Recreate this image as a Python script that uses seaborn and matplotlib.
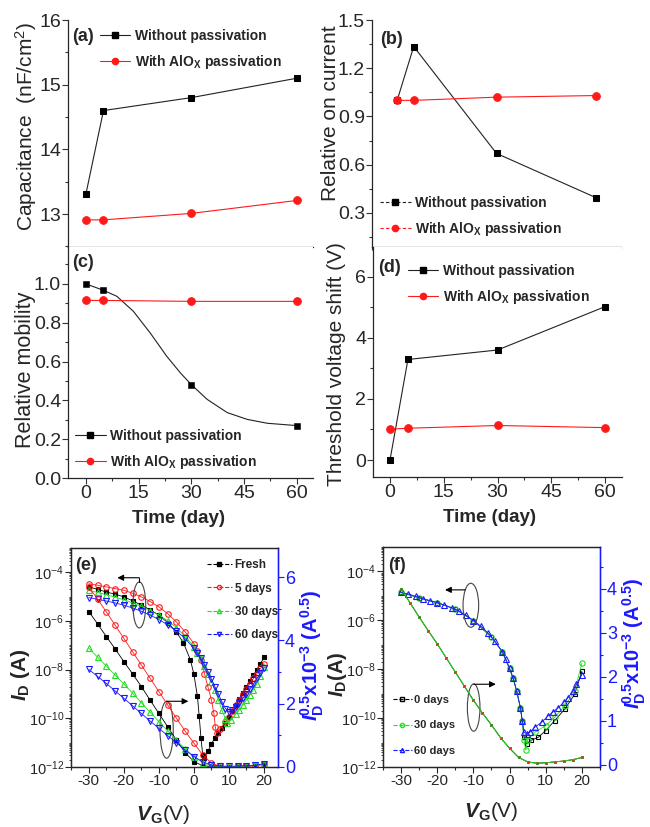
import matplotlib
matplotlib.use("Agg")
import matplotlib.pyplot as plt
import seaborn as sns
import numpy as np
from matplotlib import font_manager
from matplotlib.patches import Ellipse
from matplotlib.lines import Line2D
from matplotlib.ticker import MultipleLocator, FixedLocator, LogLocator, NullFormatter

# ---------------- panels (a)-(d): aging with / without AlOx passivation
days = [0, 5, 30, 60]
cap_without = [13.31, 14.60, 14.80, 15.10]
cap_with = [12.91, 12.91, 13.01, 13.21]
on_without = [1.0, 1.335, 0.67, 0.395]
on_with = [1.0, 1.0, 1.02, 1.03]
mob_without = [1.0, 0.967, 0.481, 0.27]
mob_with = [0.915, 0.915, 0.91, 0.91]
vth_without = [0.0, 3.29, 3.6, 5.02]
vth_with = [1.01, 1.04, 1.13, 1.06]

# smooth guide line drawn through the mobility points
mob_fit_days = [0, 5, 8.8, 13.5, 18.3, 23, 26.9, 30, 34.5, 40.2, 45.9, 51.6, 60]
mob_fit_vals = [1.0, 0.967, 0.936, 0.859, 0.747, 0.627, 0.541, 0.481, 0.405, 0.337, 0.302, 0.282, 0.27]

# ---------------- panel (e): without passivation, log10(I_D) and sqrt(I_D) x1e3
e_fresh_vg = [-30, -27.5, -25, -22.5, -20, -17.5, -15, -12.5, -10, -7.5, -5, -3, -1, 0, 1, 1.5, 2, 2.5, 3,
              4, 5, 6, 7, 8, 9, 10, 11, 12, 13, 14, 15, 16, 17, 18, 19, 20]
e_fresh_log = [-4.60, -4.70, -4.81, -4.90, -5.01, -5.17, -5.35, -5.54, -5.76, -6.07, -6.45, -6.9, -7.6, -8.2,
               -9.1, -9.9, -10.8, -11.5, -11.65, -11.35, -11.05, -10.8, -10.6, -10.4, -10.2, -9.95, -9.7,
               -9.45, -9.2, -8.95, -8.7, -8.45, -8.22, -8.0, -7.75, -7.5]
e_5d_vg = [-30, -27.5, -25, -22.5, -20, -17.5, -15, -12.5, -10, -7.5, -5, -2.5, 0, 1, 2, 3, 4, 5, 5.7, 6.1,
           6.5, 7.5, 9, 10, 11, 12, 13, 14, 15, 16, 17, 18, 19, 20]
e_5d_log = [-4.47, -4.53, -4.6, -4.67, -4.74, -4.86, -5.01, -5.2, -5.42, -5.7, -6.04, -6.45, -6.93, -7.25,
            -7.61, -8.16, -8.71, -9.25, -9.8, -10.35, -10.62, -10.42, -10.15, -9.94, -9.7, -9.46, -9.23,
            -9.0, -8.78, -8.57, -8.36, -8.16, -7.95, -7.75]
e_30d_vg = [-30, -27.5, -25, -22.5, -20, -17.5, -15, -12.5, -10, -7.5, -5, -2.5, 0, 1, 2, 3, 4, 5, 6, 7,
            8, 9, 9.5, 10.5, 12, 13, 14, 15, 16, 17, 18, 19, 20]
e_30d_log = [-4.74, -4.83, -4.92, -5.02, -5.13, -5.26, -5.4, -5.57, -5.76, -5.99, -6.27, -6.64, -7.06, -7.3,
             -7.54, -7.85, -8.16, -8.5, -8.84, -9.25, -9.67, -10.01, -10.19, -10.08, -9.83, -9.65, -9.46,
             -9.25, -9.05, -8.82, -8.57, -8.25, -7.88]
e_60d_vg = [-30, -27.5, -25, -22.5, -20, -17.5, -15, -12.5, -10, -7.5, -5, -2.5, 0, 1, 2, 3, 4, 5, 6, 7,
            8, 9, 10, 11, 12, 13, 14, 15, 16, 17, 18, 19, 20]
e_60d_log = [-5.04, -5.11, -5.18, -5.26, -5.35, -5.47, -5.6, -5.76, -5.94, -6.16, -6.41, -6.72, -7.13, -7.33,
             -7.54, -7.8, -8.09, -8.4, -8.71, -9.02, -9.32, -9.6, -9.73, -9.66, -9.52, -9.36, -9.18, -9.0,
             -8.81, -8.6, -8.36, -8.15, -7.95]

e_sq_vg = [-30, -27.5, -25, -22.5, -20, -17.5, -15, -12.5, -10, -7.5, -5, -2.5, 0, 2.5, 5, 7.5, 10,
           12.5, 15, 17.5, 20]
e_fresh_sq = [4.91, 4.52, 4.12, 3.73, 3.33, 2.94, 2.54, 2.11, 1.69, 1.27, 0.85, 0.45, 0.17, 0.04, 0.01,
              0.01, 0.01, 0.02, 0.03, 0.04, 0.09]
e_5d_sq = [5.69, 5.3, 4.9, 4.48, 4.06, 3.64, 3.22, 2.8, 2.38, 1.96, 1.54, 1.13, 0.75, 0.38, 0.12, 0.02,
           0.01, 0.02, 0.03, 0.04, 0.09]
e_30d_sq = [3.75, 3.47, 3.19, 2.9, 2.62, 2.33, 2.03, 1.73, 1.43, 1.14, 0.85, 0.57, 0.33, 0.14, 0.04, 0.02,
            0.02, 0.02, 0.03, 0.05, 0.09]
e_60d_sq = [3.08, 2.86, 2.64, 2.4, 2.17, 1.93, 1.69, 1.45, 1.22, 0.99, 0.77, 0.53, 0.33, 0.16, 0.06, 0.03,
            0.02, 0.03, 0.04, 0.05, 0.1]

# ---------------- panel (f): with AlOx passivation
f_0d_vg = [-30, -25, -20, -15, -10, -5, -2, 0, 1, 2, 3, 3.5, 4, 4.7, 6, 8, 10, 12.5, 15.3, 18, 20]
f_0d_log = [-4.86, -5.08, -5.28, -5.54, -6.01, -6.69, -7.29, -7.97, -8.37, -8.91, -9.58, -10.1,
            -10.78, -11.05, -10.91, -10.78, -10.51, -10.1, -9.63, -9.03, -8.09]
f_30d_vg = [-30, -25, -20, -15, -10, -5, -2, 0, 1, 2, 3, 3.5, 4, 4.5, 5, 7, 10, 12.5, 15.3, 18, 20]
f_30d_log = [-4.86, -5.08, -5.28, -5.54, -6.01, -6.69, -7.29, -7.97, -8.37, -8.91, -9.58, -10.1,
             -10.9, -11.31, -10.9, -10.58, -10.31, -9.97, -9.5, -8.9, -7.76]
f_60d_vg = [-30, -28, -26, -24, -22, -20, -18, -16, -14, -12, -10, -8, -6, -4, -2, -1, 0, 1, 2, 3, 3.5,
            4, 4.7, 5.6, 7, 8.9, 10.7, 12, 13.5, 15, 16.2, 17.5, 18.5, 20]
f_60d_log = [-4.86, -4.92, -5.02, -5.12, -5.2, -5.28, -5.38, -5.49, -5.62, -5.8, -6.01, -6.23, -6.51, -6.86,
             -7.29, -7.6, -7.97, -8.37, -8.91, -9.58, -10.1, -10.58, -10.64, -10.58, -10.37, -10.17, -9.9,
             -9.75, -9.57, -9.35, -9.16, -8.9, -8.62, -8.22]

f_sq_vg = [-30, -27.5, -25, -22.5, -20, -17.5, -15, -12.5, -10, -7.5, -5, -2.5, 0, 2.5, 5, 7.5, 10,
           12.5, 15, 17.5, 20]
f_0d_sq = [4.0, 3.68, 3.36, 3.05, 2.75, 2.43, 2.11, 1.79, 1.47, 1.18, 0.91, 0.62, 0.38, 0.17, 0.07, 0.04,
           0.05, 0.07, 0.09, 0.12, 0.17]
f_30d_sq = [4.0, 3.68, 3.36, 3.05, 2.75, 2.43, 2.11, 1.79, 1.47, 1.18, 0.91, 0.62, 0.38, 0.17, 0.07, 0.04,
            0.05, 0.07, 0.09, 0.12, 0.17]
f_60d_sq = [4.0, 3.68, 3.36, 3.05, 2.75, 2.43, 2.11, 1.79, 1.47, 1.18, 0.91, 0.62, 0.38, 0.17, 0.07, 0.04,
            0.05, 0.07, 0.09, 0.12, 0.17]

RED = "#ff1a1a"
GREEN = "#22dd22"
BLUE = "#1a1aff"

sns.set_style("ticks")
names = {f.name for f in font_manager.fontManager.ttflist}
FAM = "Liberation Sans Narrow" if "Liberation Sans Narrow" in names else "Liberation Sans"
plt.rcParams["font.family"] = [FAM, "DejaVu Sans"]
plt.rcParams["axes.unicode_minus"] = False
plt.rcParams["mathtext.fontset"] = "custom"
plt.rcParams["mathtext.rm"] = FAM
plt.rcParams["mathtext.it"] = FAM + ":italic"
plt.rcParams["mathtext.bf"] = FAM + ":bold"
plt.rcParams["mathtext.bfit"] = FAM + ":italic:bold"
plt.rcParams["axes.linewidth"] = 0.9

fig = plt.figure(figsize=(6.5, 8.27), dpi=100)
ax_a = fig.add_axes([0.1046, 0.7013, 0.3769, 0.2745])
ax_c = fig.add_axes([0.1046, 0.4220, 0.3769, 0.2793])
ax_b = fig.add_axes([0.5723, 0.7013, 0.3831, 0.2745])
ax_d = fig.add_axes([0.5738, 0.4232, 0.3831, 0.2781])
ax_e = fig.add_axes([0.1092, 0.0726, 0.3185, 0.2648])
ax_f = fig.add_axes([0.5892, 0.0726, 0.3338, 0.2660])

LAB_WITHOUT = "Without passivation"
LAB_WITH = r"With AlO$_{\mathbf{X}}$ passivation"


def time_axis(ax, xlim, ylim, ymaj, ymin, show_x):
    ax.set_xlim(*xlim)
    ax.set_ylim(*ylim)
    ax.xaxis.set_major_locator(MultipleLocator(15))
    ax.xaxis.set_minor_locator(MultipleLocator(7.5))
    ax.yaxis.set_major_locator(MultipleLocator(ymaj))
    ax.yaxis.set_minor_locator(MultipleLocator(ymin))
    sns.despine(ax=ax)
    ax.tick_params(which="both", direction="out", width=0.8, color="#333333")
    ax.tick_params(which="major", length=4, labelsize=14, pad=1)
    ax.tick_params(which="minor", length=2.5)
    if not show_x:
        ax.tick_params(axis="x", labelbottom=False)
    else:
        ax.set_xlabel("Time (day)", fontsize=13.5, fontweight="bold")


def pair_plot(ax, black_vals, red_vals, black_line=True):
    if black_line:
        sns.lineplot(x=days, y=black_vals, ax=ax, color="#222222", linewidth=0.8,
                     marker="s", markersize=5, markeredgecolor="black", markerfacecolor="black")
    else:
        sns.scatterplot(x=days, y=black_vals, ax=ax, color="black", marker="s", s=25,
                        edgecolor="black", zorder=3)
    sns.lineplot(x=days, y=red_vals, ax=ax, color=RED, linewidth=0.8,
                 marker="o", markersize=5.5, markeredgecolor=RED, markerfacecolor=RED)


def pair_legend(ax, loc, anchor, dashed=False):
    ls = (0, (3, 2)) if dashed else "-"
    h = [Line2D([], [], color="#222222", lw=0.8, ls=ls, marker="s", ms=4.5, mfc="black", mec="black"),
         Line2D([], [], color=RED, lw=0.8, ls=ls, marker="o", ms=4.5, mfc=RED, mec=RED)]
    ax.legend(h, [LAB_WITHOUT, LAB_WITH], loc=loc, bbox_to_anchor=anchor, frameon=False,
              borderaxespad=0, borderpad=0, handlelength=2.2, handletextpad=0.3,
              labelspacing=0.7, prop={"size": 10, "weight": "bold"})


def tag(ax, s, x, y, size=13):
    ax.text(x, y, s, transform=ax.transAxes, ha="left", va="top", fontsize=size, fontweight="bold")


# (a)
pair_plot(ax_a, cap_without, cap_with)
time_axis(ax_a, (-5.1, 64.6), (12.49, 16.0), 1, 0.5, False)
ax_a.set_ylabel(r"Capacitance  (nF/cm$^{\mathregular{2}}$)", fontsize=15)
ax_a.yaxis.set_label_coords(-0.12, 0.53)
pair_legend(ax_a, "upper left", (0.13, 0.96))
tag(ax_a, "(a)", 0.016, 0.965)

# (b)
pair_plot(ax_b, on_without, on_with)
time_axis(ax_b, (-7.6, 67.6), (0.0875, 1.5), 0.3, 0.15, False)
ax_b.set_ylabel("Relative on current", fontsize=15)
ax_b.yaxis.set_label_coords(-0.13, 0.59)
pair_legend(ax_b, "lower left", (0.032, 0.04), dashed=True)
tag(ax_b, "(b)", 0.032, 0.95)

# (c)
sns.lineplot(x=mob_fit_days, y=mob_fit_vals, ax=ax_c, color="#222222", linewidth=0.8)
pair_plot(ax_c, mob_without, mob_with, black_line=False)
time_axis(ax_c, (-5.1, 64.6), (0.0, 1.19), 0.2, 0.1, True)
ax_c.set_ylabel("Relative mobility", fontsize=15.5)
ax_c.yaxis.set_label_coords(-0.13, 0.47)
ax_c.xaxis.set_label_coords(0.453, -0.14)
pair_legend(ax_c, "lower left", (0.029, 0.03))
tag(ax_c, "(c)", 0.016, 0.97)

# (d)
pair_plot(ax_d, vth_without, vth_with)
time_axis(ax_d, (-4.75, 64.7), (-0.556, 6.97), 2, 1, True)
ax_d.set_ylabel("Threshold voltage shift (V)", fontsize=15)
ax_d.yaxis.set_label_coords(-0.11, 0.49)
ax_d.xaxis.set_label_coords(0.466, -0.14)
pair_legend(ax_d, "upper left", (0.14, 0.925))
tag(ax_d, "(d)", 0.02, 0.95)


# ---------------- transfer curves
def transfer_axes(ax, xlim, rlim, rmaj, rmin):
    ax.set_yscale("log")
    ax.set_xlim(*xlim)
    ax.set_ylim(1e-12, 1e-3)
    ax.yaxis.set_major_locator(FixedLocator([1e-12, 1e-10, 1e-8, 1e-6, 1e-4]))
    ax.yaxis.set_minor_locator(LogLocator(base=10, subs=np.arange(1, 10), numticks=100))
    ax.yaxis.set_minor_formatter(NullFormatter())
    ax.xaxis.set_major_locator(MultipleLocator(10))
    ax.xaxis.set_minor_locator(MultipleLocator(5))
    ax.tick_params(which="both", direction="out", width=0.8)
    ax.tick_params(which="major", length=4, labelsize=11, pad=1)
    ax.tick_params(which="minor", length=2)
    ax.tick_params(axis="y", which="minor", length=1.8, width=0.6)
    ax.tick_params(axis="y", labelsize=10.5)
    ax2 = ax.twinx()
    ax2.set_ylim(*rlim)
    ax2.yaxis.set_major_locator(MultipleLocator(rmaj))
    ax2.yaxis.set_minor_locator(MultipleLocator(rmin))
    ax2.tick_params(which="both", direction="out", width=0.8, colors=BLUE, labelsize=13, pad=1)
    ax2.tick_params(which="major", length=4)
    ax2.tick_params(which="minor", length=2.5)
    ax2.spines["right"].set_color(BLUE)
    ax2.spines["right"].set_linewidth(1.0)
    ax.set_xlabel(r"$\mathbfit{V}_{\mathbf{G}}$(V)", fontsize=15)
    ax2.set_ylabel(r"$\mathbfit{I}_{\mathbf{D}}^{\mathbf{0.5}}$$\mathbf{x10^{-3}}$ $\mathbf{(A^{0.5})}$",
                   fontsize=14.5, color=BLUE)
    return ax2


def series(ax, vg, vals, color, marker, ms, filled, lw=0.6):
    sns.lineplot(x=vg, y=vals, ax=ax, color=color, linewidth=lw, marker=marker, markersize=ms,
                 markeredgecolor=color, markeredgewidth=0.8,
                 markerfacecolor=color if filled else "none", sort=False)


def bracket(ax, cx, cy, w, h, start, end, ybar, lift=None):
    ax.add_patch(Ellipse((cx, cy), w, h, transform=ax.transAxes, fill=False, ec="#444444", lw=0.8))
    if lift is not None:
        ax.plot([start, start], [lift, ybar], transform=ax.transAxes, color="black", lw=0.8)
    ax.annotate("", xy=(end, ybar), xytext=(start, ybar), xycoords="axes fraction",
                arrowprops=dict(arrowstyle="-|>", color="black", lw=0.8, mutation_scale=9,
                                shrinkA=0, shrinkB=0))


# (e)
ax_e2 = transfer_axes(ax_e, (-35.1, 24.0), (0, 6.92), 2, 1)
series(ax_e, e_fresh_vg, 10 ** np.array(e_fresh_log), "black", "s", 2.5, True)
series(ax_e, e_5d_vg, 10 ** np.array(e_5d_log), RED, "o", 4, False)
series(ax_e, e_30d_vg, 10 ** np.array(e_30d_log), GREEN, "^", 4.3, False)
series(ax_e, e_60d_vg, 10 ** np.array(e_60d_log), BLUE, "v", 4.3, False)
series(ax_e2, e_sq_vg, e_fresh_sq, "black", "s", 2.5, True)
series(ax_e2, e_sq_vg, e_5d_sq, RED, "o", 4, False)
series(ax_e2, e_sq_vg, e_30d_sq, GREEN, "^", 4.3, False)
series(ax_e2, e_sq_vg, e_60d_sq, BLUE, "v", 4.3, False)
ax_e.set_ylabel(r"$\mathbfit{I}_{\mathbf{D}}$ $\mathbf{(A)}$", fontsize=15)
ax_e.yaxis.set_label_coords(-0.19, 0.42)
ax_e2.yaxis.set_label_coords(1.10, 0.51)
ax_e.xaxis.set_label_coords(0.445, -0.165)
hs = [Line2D([], [], color="black", ls="--", lw=0.8, marker="s", ms=2.5, mfc="black"),
      Line2D([], [], color=RED, ls="--", lw=0.8, marker="o", ms=3, mfc="none"),
      Line2D([], [], color=GREEN, ls="--", lw=0.8, marker="^", ms=3, mfc="none"),
      Line2D([], [], color=BLUE, ls="--", lw=0.8, marker="v", ms=3, mfc="none")]
ax_e2.legend(hs, ["Fresh", "5 days", "30 days", "60 days"], loc="upper left",
             bbox_to_anchor=(0.656, 0.948), frameon=False, borderaxespad=0, borderpad=0,
             handlelength=2.1, handletextpad=0.25, labelspacing=0.95,
             prop={"size": 8.5, "weight": "bold"})
tag(ax_e2, "(e)", 0.019, 0.96, size=13)
bracket(ax_e2, 0.33, 0.74, 0.062, 0.21, 0.33, 0.224, 0.864, lift=0.845)
bracket(ax_e2, 0.462, 0.17, 0.064, 0.26, 0.462, 0.567, 0.30)

# (f)
ax_f2 = transfer_axes(ax_f, (-35.0, 25.0), (-0.045, 4.95), 1, 0.5)
series(ax_f, f_0d_vg, 10 ** np.array(f_0d_log), "black", "s", 3.2, False)
series(ax_f, f_30d_vg, 10 ** np.array(f_30d_log), GREEN, "o", 3.8, False)
series(ax_f, f_60d_vg, 10 ** np.array(f_60d_log), BLUE, "^", 4.5, False)
series(ax_f2, f_sq_vg, f_0d_sq, "black", "s", 1.2, True, lw=0.7)
series(ax_f2, f_sq_vg, f_30d_sq, GREEN, "o", 1.3, True, lw=0.7)
series(ax_f2, f_sq_vg, f_60d_sq, RED, ".", 1.6, True, lw=0.0)
ax_f.set_ylabel(r"$\mathbfit{I}_{\mathbf{D}}$$\mathbf{(A)}$", fontsize=14.5)
ax_f.yaxis.set_label_coords(-0.158, 0.42)
ax_f2.yaxis.set_label_coords(1.095, 0.56)
ax_f.xaxis.set_label_coords(0.50, -0.15)
hs = [Line2D([], [], color="black", ls="--", lw=0.8, marker="s", ms=2.5, mfc="none"),
      Line2D([], [], color=GREEN, ls="--", lw=0.8, marker="o", ms=3, mfc="none"),
      Line2D([], [], color=BLUE, ls="--", lw=0.8, marker="^", ms=3, mfc="none")]
ax_f2.legend(hs, ["0 days", "30 days", "60 days"], loc="lower left",
             bbox_to_anchor=(0.046, 0.05), frameon=False, borderaxespad=0, borderpad=0,
             handlelength=1.7, handletextpad=0.2, labelspacing=1.4,
             prop={"size": 8, "weight": "bold"})
tag(ax_f2, "(f)", 0.023, 0.955, size=13)
bracket(ax_f2, 0.405, 0.735, 0.072, 0.2, 0.38, 0.286, 0.805)
bracket(ax_f2, 0.418, 0.27, 0.058, 0.215, 0.418, 0.52, 0.376)

fig.savefig("out.png", dpi=100)
